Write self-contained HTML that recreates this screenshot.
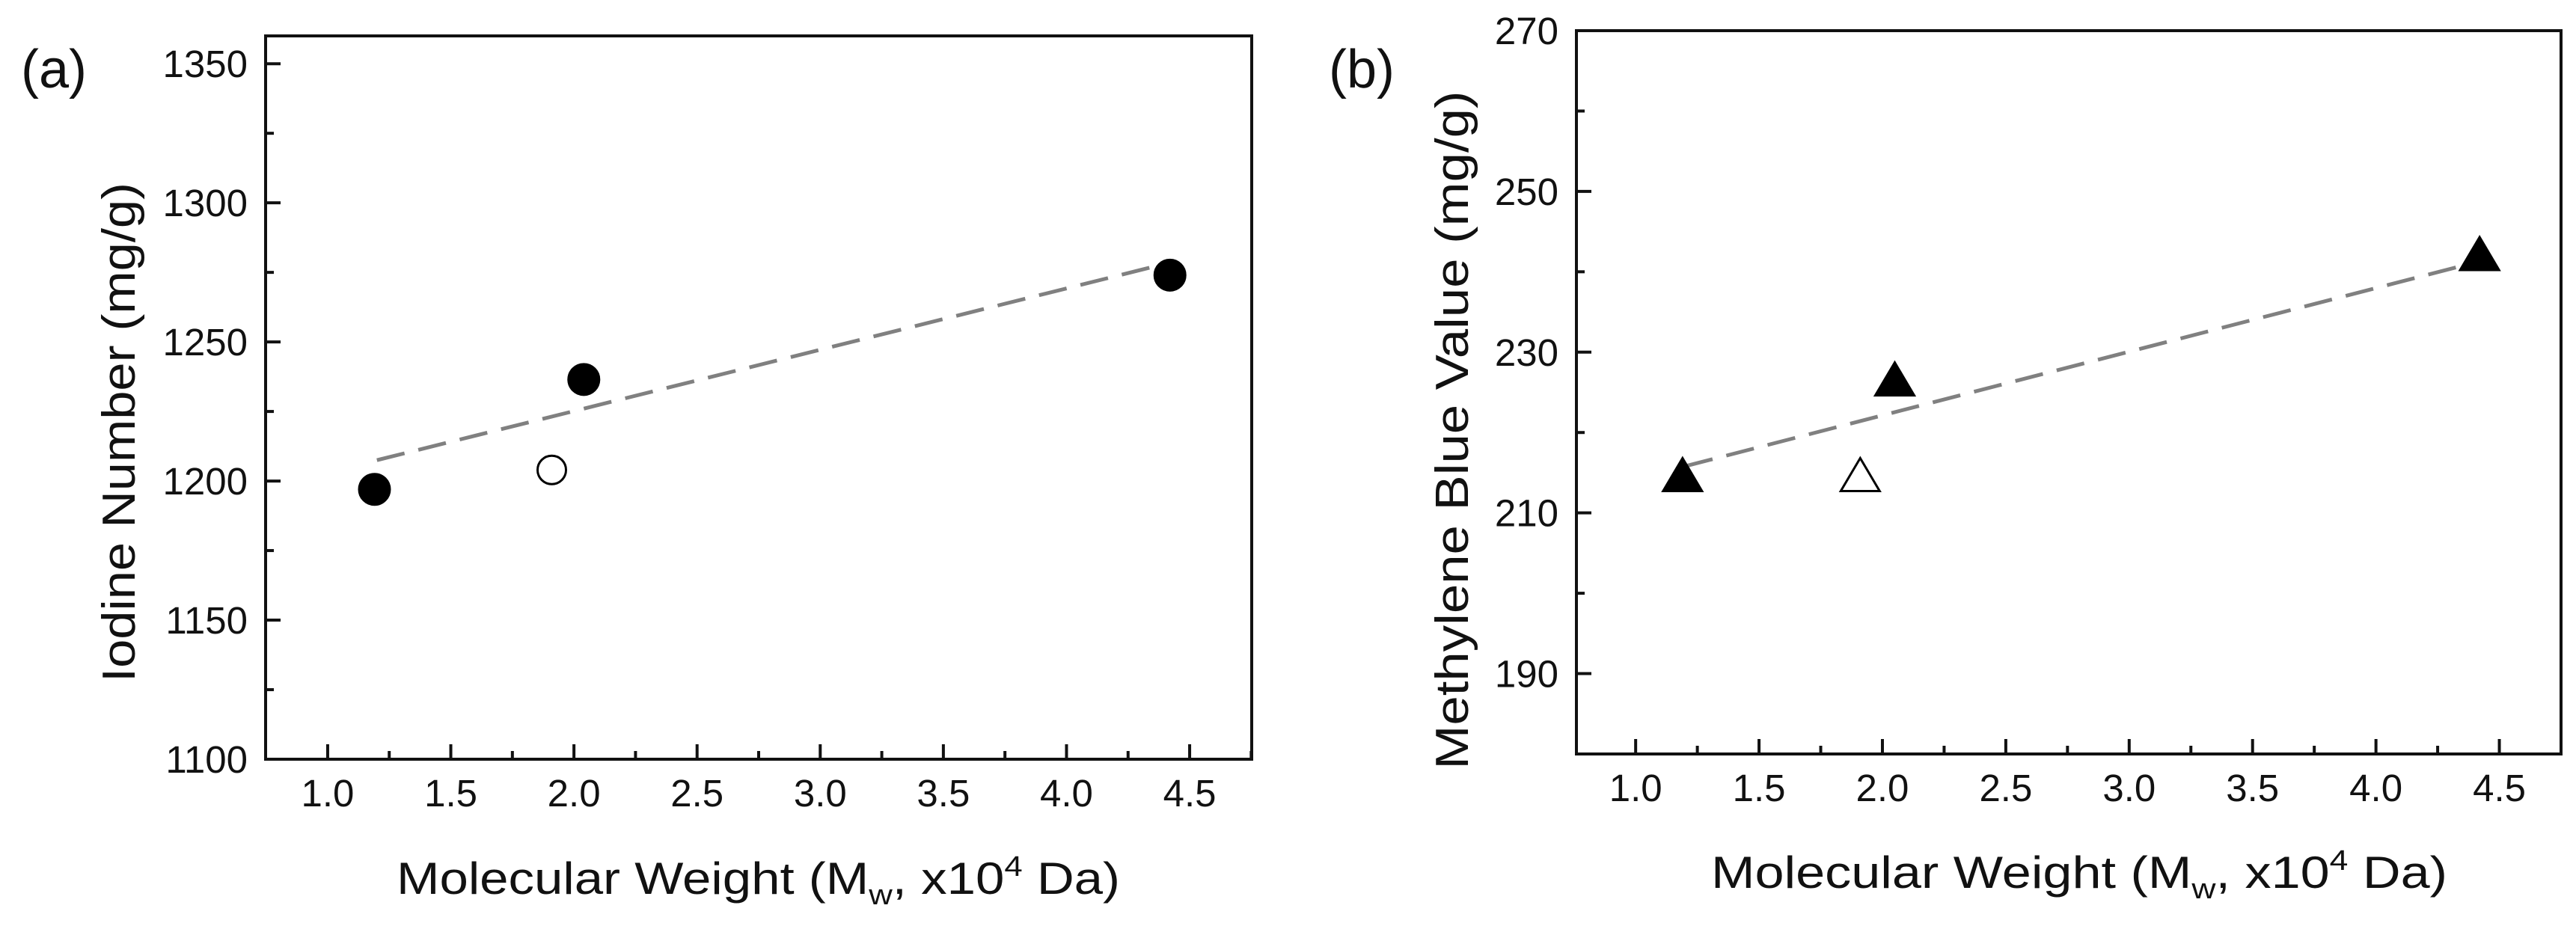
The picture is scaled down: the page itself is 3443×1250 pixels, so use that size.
<!DOCTYPE html>
<html><head><meta charset="utf-8"><style>
html,body{margin:0;padding:0;background:#fff;}
svg{display:block;font-family:"Liberation Sans",Arial,sans-serif;}
</style></head><body>
<svg id="fig" width="3443" height="1250" viewBox="0 0 3443 1250" xmlns="http://www.w3.org/2000/svg"></svg>
<script>
// Panel (a) data
const aX = [1.19, 2.04, 4.42];
const aY = [1197, 1236.5, 1274];
const aOpenX = [1.91];
const aOpenY = [1204];
const aFitX = [1.2, 4.42];
const aFitY = [1207.5, 1278.5];
const aYTicks = [1100, 1150, 1200, 1250, 1300, 1350];
// Panel (b) data
const bX = [1.19, 2.05, 4.42];
const bY = [214.3, 226.2, 241.8];
const bOpenX = [1.91];
const bOpenY = [214.3];
const bFitX = [1.2, 4.42];
const bFitY = [215.8, 241.3];
const bYTicks = [190, 210, 230, 250, 270];
const xTicks = [1.0, 1.5, 2.0, 2.5, 3.0, 3.5, 4.0, 4.5];

const NS = "http://www.w3.org/2000/svg";
const svg = document.getElementById('fig');
function mk(tag, attrs, parent, text){
  const e = document.createElementNS(NS, tag);
  for (const k in attrs) e.setAttribute(k, attrs[k]);
  if (text !== undefined) e.textContent = text;
  (parent||svg).appendChild(e);
  return e;
}

function panel(cfg){
  const g = mk('g', {});
  
  
  const sx = v => cfg.L + (v - cfg.xmin) / (cfg.xmax - cfg.xmin) * (cfg.R - cfg.L);
  const sy = v => cfg.B - (v - cfg.ymin) / (cfg.ymax - cfg.ymin) * (cfg.B - cfg.T);
  const frame = mk('rect', {x:cfg.L, y:cfg.T, width:cfg.R-cfg.L, height:cfg.B-cfg.T, fill:'none', stroke:'#111', 'stroke-width':4}, g);
  
  
  // x ticks
  for (let i = 0; i < xTicks.length; i++){
    const v = xTicks[i], x = sx(v);
    const t = mk('line', {x1:x, x2:x, y1:cfg.B, y2:cfg.B-20, stroke:'#111', 'stroke-width':4}, g);
    
    
    const mx = sx(v + 0.25);
    if (v + 0.25 < cfg.xmax){
      const m = mk('line', {x1:mx, x2:mx, y1:cfg.B, y2:cfg.B-11, stroke:'#111', 'stroke-width':4}, g);
      
      
    }
    const lb = mk('text', {x:x, y:cfg.B+63, 'font-size':51, 'text-anchor':'middle', fill:'#111'}, g, v.toFixed(1));
    
    
  }
  // y ticks
  const yt = cfg.yticks, step = yt[1]-yt[0];
  for (let i = 0; i < yt.length; i++){
    const v = yt[i], y = sy(v);
    const t = mk('line', {x1:cfg.L, x2:cfg.L+20, y1:y, y2:y, stroke:'#111', 'stroke-width':4}, g);
    
    
    if (i < yt.length-1){
      const my = sy(v + step/2);
      const m = mk('line', {x1:cfg.L, x2:cfg.L+11, y1:my, y2:my, stroke:'#111', 'stroke-width':4}, g);
      
      
    }
    const lb = mk('text', {x:cfg.L-24, y:y+18, 'font-size':51, 'text-anchor':'end', fill:'#111'}, g, String(v));
    
    
  }
  // fit line
  const fit = mk('line', {x1:sx(cfg.fitX[0]), y1:sy(cfg.fitY[0]), x2:sx(cfg.fitX[1]), y2:sy(cfg.fitY[1]), stroke:'#808080', 'stroke-width':5, 'stroke-dasharray':'38 19'}, g);
  
  
  function marker(x, y, filled){
    let e;
    if (cfg.shape === 'circle'){
      e = mk('circle', {cx:sx(x), cy:sy(y), r: filled?21:19, fill: filled?'#000':'#fff', stroke:'#000', 'stroke-width': filled?2:3}, g);
    } else {
      const cx = sx(x), cy = sy(y);
      const pts = [[cx, cy-27],[cx-26, cy+17],[cx+26, cy+17]].map(p=>p.join(',')).join(' ');
      e = mk('polygon', {points:pts, fill: filled?'#000':'#fff', stroke:'#000', 'stroke-width':3}, g);
    }
    return e;
  }
  for (let i = 0; i < cfg.x.length; i++){
    const m = marker(cfg.x[i], cfg.y[i], true);
    
    
  }
  for (let i = 0; i < cfg.ox.length; i++){
    const m = marker(cfg.ox[i], cfg.oy[i], false);
    
    
  }
  // titles
  const xt = mk('text', {x:(cfg.xtl+cfg.xtr)/2, y:cfg.xtBase, 'font-size':60, 'text-anchor':'middle', fill:'#111', textLength:cfg.xtr-cfg.xtl, lengthAdjust:'spacingAndGlyphs'}, g);
  
  
  mk('tspan', {}, xt, 'Molecular Weight (M');
  mk('tspan', {'font-size':38, dy:14}, xt, 'w');
  mk('tspan', {dy:-14}, xt, ', x10');
  mk('tspan', {'font-size':38, dy:-24}, xt, '4');
  mk('tspan', {dy:24}, xt, ' Da)');
  const ytl = mk('text', {x:0, y:0, 'font-size':62, 'text-anchor':'middle', fill:'#111', textLength:cfg.ytLen, lengthAdjust:'spacingAndGlyphs', transform:`translate(${cfg.ytX},${cfg.ytY}) rotate(-90)`}, g, cfg.ytitle);
  
  
  const pl = mk('text', {x:cfg.plX, y:cfg.plY, 'font-size':72, fill:'#111'}, g, cfg.plabel);
  
  
}

panel({name:'panel-a', L:355, R:1673, T:48, B:1015, xmin:0.748, xmax:4.752, ymin:1100, ymax:1360,
  yticks:aYTicks, x:aX, y:aY, ox:aOpenX, oy:aOpenY, fitX:aFitX, fitY:aFitY, shape:'circle',
  xtl:530, xtr:1497, xtBase:1195, ytitle:'Iodine Number (mg/g)', ytX:180, ytY:578, ytLen:668,
  plabel:'(a)', plX:28, plY:117});
panel({name:'panel-b', L:2107, R:3423, T:41, B:1008, xmin:0.76, xmax:4.75, ymin:180, ymax:270,
  yticks:bYTicks, x:bX, y:bY, ox:bOpenX, oy:bOpenY, fitX:bFitX, fitY:bFitY, shape:'triangle',
  xtl:2287, xtr:3271, xtBase:1187, ytitle:'Methylene Blue Value (mg/g)', ytX:1962, ytY:575, ytLen:907,
  plabel:'(b)', plX:1776, plY:117});
</script>
</body></html>
